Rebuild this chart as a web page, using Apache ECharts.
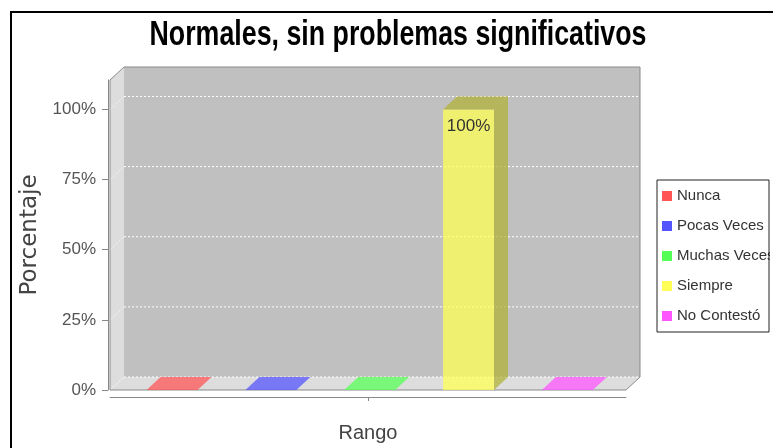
<!DOCTYPE html>
<html>
<head>
<meta charset="utf-8">
<script src="https://cdn.jsdelivr.net/npm/echarts@6/dist/echarts.min.js"></script>
<style>
  html, body { margin: 0; padding: 0; background: #fff; }
  #chart { width: 773px; height: 448px; }
</style>
</head>
<body>
<div id="chart"></div>
<script>
const categories = [""];
const seriesNames = ["Nunca", "Pocas Veces", "Muchas Veces", "Siempre", "No Contestó"];
const seriesColors = ["#ff5555", "#5555ff", "#55ff55", "#ffff55", "#ff55ff"];
const values = [0, 0, 0, 100, 0];
const yTicks = [0, 25, 50, 75, 100];
const Y_MAX = 110.5;
const titleText = "Normales, sin problemas significativos";

// 3d depth offsets
const DX = 14;
const DY = 13;
// bar layout inside the single category band
const FIRST = 0.1203;
const STEP = 0.1915;
const BAR_W = 0.0988;

const SANS = "'Liberation Sans', Arial, sans-serif";

function darker(hex) {
  const n = parseInt(hex.slice(1), 16);
  const r = Math.floor(((n >> 16) & 255) * 0.7);
  const g = Math.floor(((n >> 8) & 255) * 0.7);
  const b = Math.floor((n & 255) * 0.7);
  return "rgb(" + r + "," + g + "," + b + ")";
}

function renderWalls(params, api) {
  const c0 = api.coord([0, 0]);
  const band = api.size([1, 0])[0];
  const x0 = c0[0] - band / 2;
  const x1 = c0[0] + band / 2;
  const yb = c0[1];
  const yt = api.coord([0, Y_MAX])[1];
  const children = [
    { type: "rect", shape: { x: x0 + DX, y: yt - DY, width: x1 - x0, height: yb - yt }, style: { fill: "#c0c0c0" } },
    { type: "polygon", shape: { points: [[x0, yt], [x0 + DX, yt - DY], [x0 + DX, yb - DY], [x0, yb]] }, style: { fill: "#dddddd" } },
    { type: "polygon", shape: { points: [[x0, yb], [x0 + DX, yb - DY], [x1 + DX, yb - DY], [x1, yb]] }, style: { fill: "#dddddd" } }
  ];
  yTicks.forEach(function (t) {
    const y = api.coord([0, t])[1];
    children.push({ type: "line", shape: { x1: x0 + DX, y1: y - DY, x2: x1 + DX, y2: y - DY },
      style: { stroke: "#ffffff", lineWidth: 1, lineDash: [2, 2] } });
    children.push({ type: "line", shape: { x1: x0, y1: y, x2: x0 + DX, y2: y - DY },
      style: { stroke: "#ffffff", lineWidth: 1, lineDash: [2, 2], opacity: 0.7 } });
  });
  children.push({ type: "polyline",
    shape: { points: [[x0, yb], [x0, yt], [x0 + DX, yt - DY], [x1 + DX, yt - DY], [x1 + DX, yb - DY], [x1, yb], [x0, yb]] },
    style: { stroke: "#8a8a8a", lineWidth: 1, fill: null } });
  return { type: "group", children: children };
}

function makeBarRenderer(i) {
  return function (params, api) {
    const band = api.size([1, 0])[0];
    const c0 = api.coord([api.value(0), 0]);
    const c1 = api.coord([api.value(0), api.value(1)]);
    const bw = band * BAR_W;
    const x = c0[0] - band / 2 + band * (FIRST + i * STEP) - bw / 2;
    const xr = x + bw;
    const yb = c0[1];
    const yt = c1[1];
    const col = seriesColors[i];
    const dk = darker(col);
    const children = [];
    if (api.value(1) > 0) {
      children.push({ type: "rect", shape: { x: x, y: yt, width: bw, height: yb - yt }, style: { fill: col, opacity: 0.75 } });
      children.push({ type: "polygon", shape: { points: [[xr, yb], [xr, yt], [xr + DX, yt - DY], [xr + DX, yb - DY]] }, style: { fill: dk, opacity: 0.75 } });
      children.push({ type: "polygon", shape: { points: [[x, yt], [x + DX, yt - DY], [xr + DX, yt - DY], [xr, yt]] }, style: { fill: dk, opacity: 0.75 } });
      children.push({ type: "text", style: { x: x + bw / 2, y: yt + 8, text: api.value(1) + "%",
        align: "center", verticalAlign: "top", font: "17px " + SANS, fill: "#333333" } });
    } else {
      children.push({ type: "polygon", shape: { points: [[x, yb], [x + DX, yb - DY], [xr + DX, yb - DY], [xr, yb]] }, style: { fill: col, opacity: 0.75 } });
    }
    return { type: "group", children: children };
  };
}

const chart = echarts.init(document.getElementById("chart"));

const series = [{
  name: "walls",
  type: "custom",
  renderItem: renderWalls,
  data: [[0, 0]],
  silent: true,
  z: 1
}];
seriesNames.forEach(function (name, i) {
  series.push({
    name: name,
    type: "custom",
    renderItem: makeBarRenderer(i),
    itemStyle: { color: seriesColors[i] },
    data: [[0, values[i]]],
    z: 2
  });
});

chart.setOption({
  animation: false,
  legend: {
    data: seriesNames,
    orient: "vertical",
    left: 662,
    top: 187,
    padding: 0,
    itemWidth: 10,
    itemHeight: 10,
    itemGap: 12,
    icon: "rect",
    textStyle: { fontFamily: SANS, fontSize: 15, lineHeight: 18, color: "#333" }
  },
  grid: { left: 110, right: 147, top: 80, bottom: 58, outerBoundsMode: "none", containLabel: false },
  xAxis: {
    type: "category",
    data: categories,
    name: "Rango",
    nameLocation: "middle",
    nameGap: 26,
    offset: 7,
    nameTextStyle: { fontFamily: SANS, fontSize: 20, color: "#444" },
    axisLine: { show: true, onZero: false, lineStyle: { color: "#888", width: 1 } },
    axisTick: { show: true, alignWithLabel: true, length: 4, lineStyle: { color: "#888" } },
    axisLabel: { show: false },
    splitLine: { show: false }
  },
  yAxis: {
    type: "value",
    min: 0,
    max: Y_MAX,
    offset: 2,
    name: "Porcentaje",
    nameLocation: "middle",
    nameRotate: 90,
    nameGap: 66,
    nameTextStyle: { fontFamily: "'DejaVu Sans', sans-serif", fontSize: 23, color: "#444" },
    axisLine: { show: true, lineStyle: { color: "#888", width: 1 } },
    axisTick: { show: true, length: 6, customValues: yTicks, lineStyle: { color: "#888" } },
    axisLabel: { customValues: yTicks, formatter: "{value}%", margin: 12,
      fontFamily: SANS, fontSize: 17, color: "#555" },
    splitLine: { show: false }
  },
  graphic: [
    { type: "text", x: 398, y: 35, scaleX: 0.765, z: 100,
      style: { text: titleText, align: "center", verticalAlign: "middle",
        font: "bold 35px " + SANS, fill: "#000" } },
    { type: "rect", shape: { x: 11, y: 12, width: 800, height: 500 }, style: { fill: null, stroke: "#000", lineWidth: 2 }, z: 100 },
    { type: "rect", shape: { x: 770, y: 181, width: 10, height: 150 }, style: { fill: "#fff" }, z: 100 },
    { type: "rect", shape: { x: 657, y: 180, width: 112, height: 152 }, style: { fill: null, stroke: "#222", lineWidth: 1 }, z: 100 }
  ],
  series: series
});
</script>
</body>
</html>
